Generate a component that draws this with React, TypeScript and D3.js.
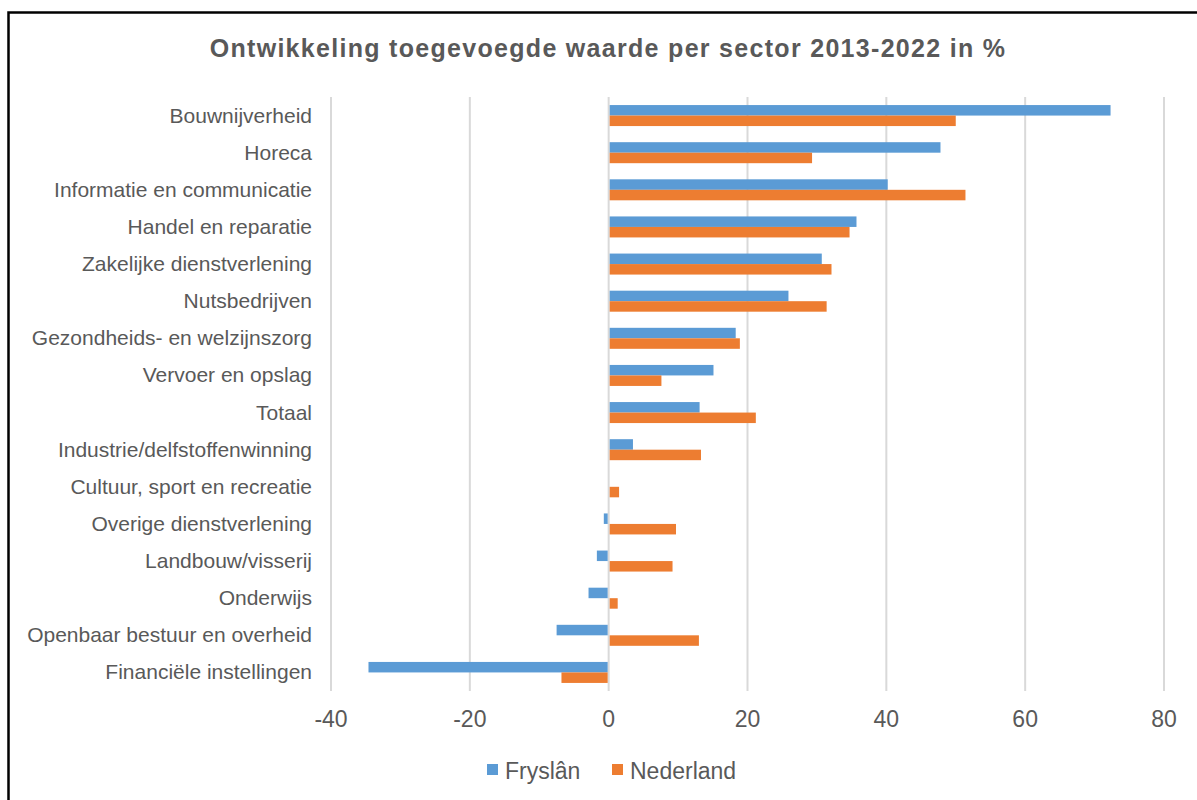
import { useRef, useEffect } from 'react'
import * as d3 from 'd3'

const sectors = [
  'Bouwnijverheid',
  'Horeca',
  'Informatie en communicatie',
  'Handel en reparatie',
  'Zakelijke dienstverlening',
  'Nutsbedrijven ',
  'Gezondheids- en welzijnszorg',
  'Vervoer en opslag',
  'Totaal',
  'Industrie/delfstoffenwinning',
  'Cultuur, sport en recreatie',
  'Overige dienstverlening',
  'Landbouw/visserij',
  'Onderwijs',
  'Openbaar bestuur en overheid',
  'Financiële instellingen',
]

const fryslan = [72.3, 47.8, 40.2, 35.7, 30.7, 25.9, 18.3, 15.1, 13.1, 3.5, 0, -0.7, -1.7, -2.9, -7.5, -34.6]
const nederland = [50.0, 29.3, 51.4, 34.7, 32.1, 31.4, 18.9, 7.6, 21.2, 13.3, 1.5, 9.7, 9.2, 1.3, 13.0, -6.8]

const xTicks = [-40, -20, 0, 20, 40, 60, 80]

const seriesNames = ['Fryslân', 'Nederland']
const colors = ['#5B9BD5', '#ED7D31']

export default function App() {
  const ref = useRef<SVGSVGElement>(null)

  useEffect(() => {
    if (!ref.current) return
    const svg = d3.select(ref.current)
    svg.selectAll('*').remove()

    const font = 'Arial, "Liberation Sans", sans-serif'
    const textColor = '#595959'

    // frame
    svg
      .append('rect')
      .attr('x', 8.5)
      .attr('y', 12.5)
      .attr('width', 1300)
      .attr('height', 900)
      .attr('fill', 'white')
      .attr('stroke', '#000')
      .attr('stroke-width', 2.5)

    const x = d3.scaleLinear().domain([-40, 80]).range([331, 1164])
    const y = d3.scaleBand().domain(sectors).range([97, 691]).paddingInner(0).paddingOuter(0)
    const barH = 10.5

    // gridlines
    svg
      .append('g')
      .selectAll('line')
      .data(xTicks)
      .join('line')
      .attr('x1', (d) => x(d))
      .attr('x2', (d) => x(d))
      .attr('y1', 97)
      .attr('y2', 691)
      .attr('stroke', '#D9D9D9')
      .attr('stroke-width', 2)

    const series = [fryslan, nederland]
    series.forEach((vals, si) => {
      svg
        .append('g')
        .selectAll('rect')
        .data(vals.map((v, i) => ({ v, s: sectors[i] })))
        .join('rect')
        .attr('x', (d) => (d.v >= 0 ? x(0) + 1 : x(d.v)))
        .attr('width', (d) => Math.max(0, Math.abs(x(d.v) - x(0)) - 1))
        .attr('y', (d) => (y(d.s) as number) + y.bandwidth() / 2 - barH + si * barH)
        .attr('height', barH)
        .attr('fill', colors[si])
    })

    // category labels
    svg
      .append('g')
      .selectAll('text')
      .data(sectors)
      .join('text')
      .attr('x', 312)
      .attr('y', (d) => (y(d) as number) + y.bandwidth() / 2 + 7)
      .attr('text-anchor', 'end')
      .attr('font-family', font)
      .attr('font-size', 21)
      .attr('fill', textColor)
      .text((d) => d)

    // x tick labels
    svg
      .append('g')
      .selectAll('text')
      .data(xTicks)
      .join('text')
      .attr('x', (d) => x(d))
      .attr('y', 727)
      .attr('text-anchor', 'middle')
      .attr('font-family', font)
      .attr('font-size', 23)
      .attr('fill', textColor)
      .text((d) => String(d))

    // title
    svg
      .append('text')
      .attr('x', 608)
      .attr('y', 57)
      .attr('text-anchor', 'middle')
      .attr('font-family', font)
      .attr('font-size', 25)
      .attr('font-weight', 'bold')
      .attr('letter-spacing', 1.3)
      .attr('fill', textColor)
      .text('Ontwikkeling toegevoegde waarde per sector 2013-2022 in %')

    // legend
    const legendX = [487, 612]
    seriesNames.forEach((name, i) => {
      svg
        .append('rect')
        .attr('x', legendX[i])
        .attr('y', 764)
        .attr('width', 11)
        .attr('height', 11)
        .attr('fill', colors[i])
      svg
        .append('text')
        .attr('x', legendX[i] + 18)
        .attr('y', 779)
        .attr('font-family', font)
        .attr('font-size', 23)
        .attr('fill', textColor)
        .text(name)
    })
  }, [])

  return (
    <div style={{ position: 'absolute', left: 0, top: 0 }}>
      <svg ref={ref} width={1197} height={800} style={{ display: 'block' }} />
    </div>
  )
}
